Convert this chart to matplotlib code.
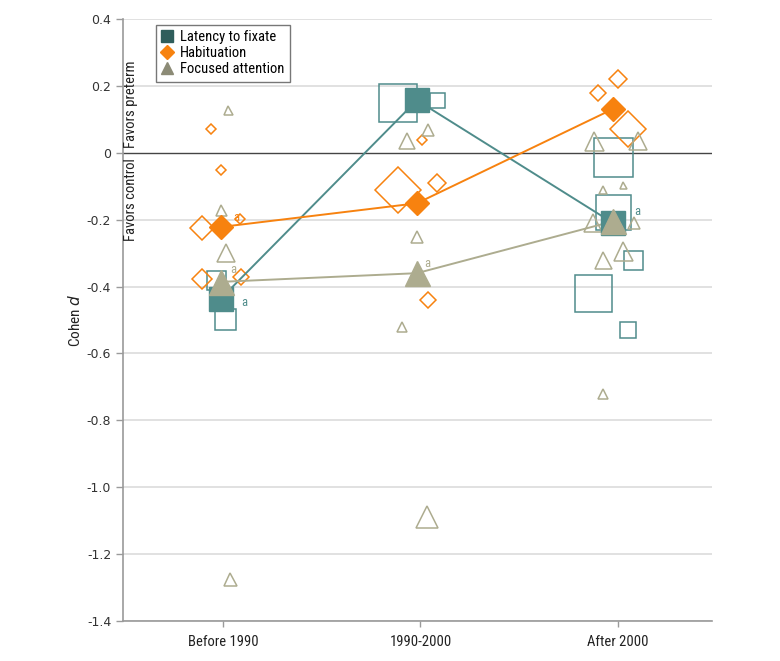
import matplotlib
matplotlib.use("Agg")
import matplotlib.pyplot as plt
from matplotlib import font_manager
from matplotlib.lines import Line2D

# ---------------- data ----------------
periods = ["Before 1990", "1990-2000", "After 2000"]

# Latency to fixate: individual studies
lat_period = [0, 0, 1, 1, 2, 2, 2, 2, 2]
lat_d      = [-0.38, -0.497, 0.149, 0.158, -0.013, -0.177, -0.32, -0.42, -0.53]
lat_jit    = [-0.035, 0.010, -0.114, 0.084, -0.025, -0.025, 0.076, -0.127, 0.051]
lat_size   = [19, 21, 38, 15, 39, 35, 19, 37, 16]
lat_mean   = [-0.437, 0.157, -0.21]

# Habituation: individual studies
hab_period = [0, 0, 0, 0, 0, 0, 1, 1, 1, 1, 2, 2, 2]
hab_d      = [0.071, -0.05, -0.198, -0.225, -0.378, -0.37,
              0.038, -0.111, -0.09, -0.44,
              0.221, 0.178, 0.071]
hab_jit    = [-0.061, -0.010, 0.086, -0.106, -0.106, 0.091,
              0.008, -0.114, 0.084, 0.038,
              0.0, -0.101, 0.051]
hab_size   = [10, 9, 10, 23, 20, 15,
              9, 45, 18, 16,
              18, 16, 36]
hab_mean   = [-0.222, -0.151, 0.131]

# Focused attention: individual studies
foc_period = [0, 0, 0, 0, 1, 1, 1, 1, 1, 2, 2, 2, 2, 2, 2, 2, 2, 2]
foc_d      = [0.128, -0.17, -0.30, -1.275,
              0.035, 0.068, -0.252, -0.52, -1.09,
              0.035, 0.035, -0.095, -0.11, -0.21, -0.21, -0.294, -0.32, -0.72]
foc_jit    = [0.025, -0.010, 0.015, 0.035,
              -0.068, 0.038, -0.018, -0.094, 0.033,
              -0.122, 0.101, 0.025, -0.076, -0.127, 0.081, 0.025, -0.076, -0.076]
foc_size   = [9, 11, 18, 13,
              16, 12, 12, 10, 22,
              19, 18, 7, 8, 18, 12, 19, 17, 10]
foc_mean   = [-0.386, -0.36, -0.205]

mean_jit = [-0.012, -0.018, -0.025]
mean_size = 24

yticks = [0.4, 0.2, 0, -0.2, -0.4, -0.6, -0.8, -1.0, -1.2, -1.4]
ytick_labels = ["0.4", "0.2", "0", "-0.2", "-0.4", "-0.6", "-0.8", "-1.0", "-1.2", "-1.4"]

# ---------------- style ----------------
TEAL = "#4F8C8B"
ORANGE = "#F7820F"
KHAKI = "#ADAC8F"

avail = {f.name for f in font_manager.fontManager.ttflist}
narrow = "DejaVu Sans"
for cand in ["Liberation Sans Narrow", "Roboto Condensed", "Open Sans Condensed", "Roboto", "Liberation Sans"]:
    if cand in avail:
        narrow = cand
        break

PX = 0.72  # points per pixel at dpi 100

fig = plt.figure(figsize=(7.8, 6.61), dpi=100)
ax = fig.add_axes([123 / 780, 1 - 621 / 661, (712 - 123) / 780, (621 - 19) / 661])
ax.set_xlim(-0.506, 2.476)
ax.set_ylim(-1.4, 0.4)

# grid
for y in yticks:
    if y == 0:
        continue
    ax.axhline(y, color="#DCDCDC", lw=1.2, zorder=0)
ax.axhline(0, color="#444444", lw=1.0, zorder=1)

# individual studies
for p, d, j, s in zip(lat_period, lat_d, lat_jit, lat_size):
    ax.plot(p + j, d, marker="s", ms=s * PX, mfc="none", mec=TEAL, mew=1.1, ls="none", zorder=3)
for p, d, j, s in zip(hab_period, hab_d, hab_jit, hab_size):
    ax.plot(p + j, d, marker="D", ms=s / 1.414 * PX, mfc="none", mec=ORANGE, mew=1.1, ls="none", zorder=3)
for p, d, j, s in zip(foc_period, foc_d, foc_jit, foc_size):
    ax.plot(p + j, d, marker="^", ms=s * PX, mfc="none", mec=KHAKI, mew=1.1, ls="none", zorder=3)

xs = [i + j for i, j in enumerate(mean_jit)]
# mean lines
ax.plot(xs, lat_mean, color=TEAL, lw=1.4, zorder=4)
ax.plot(xs, hab_mean, color=ORANGE, lw=1.4, zorder=4)
ax.plot(xs, foc_mean, color=KHAKI, lw=1.4, zorder=4)
# mean markers
ax.plot(xs, lat_mean, ls="none", marker="s", ms=mean_size * PX, mfc=TEAL, mec=TEAL, zorder=5)
ax.plot(xs, hab_mean, ls="none", marker="D", ms=23 / 1.414 * PX, mfc=ORANGE, mec=ORANGE, zorder=5)
ax.plot(xs, foc_mean, ls="none", marker="^", ms=25 * PX, mfc=KHAKI, mec=KHAKI, zorder=6)

# "a" annotations
afs = 9
ax.annotate("a", (xs[0], hab_mean[0]), xytext=(13, 10), textcoords="offset pixels",
            color=ORANGE, fontsize=afs, family=narrow, ha="left", va="center")
ax.annotate("a", (xs[0], foc_mean[0]), xytext=(10, 12), textcoords="offset pixels",
            color=KHAKI, fontsize=afs, family=narrow, ha="left", va="center")
ax.annotate("a", (xs[0], lat_mean[0]), xytext=(21, -4), textcoords="offset pixels",
            color=TEAL, fontsize=afs, family=narrow, ha="left", va="center")
ax.annotate("a", (xs[1], foc_mean[1]), xytext=(7, 10), textcoords="offset pixels",
            color=KHAKI, fontsize=afs, family=narrow, ha="left", va="center")
ax.annotate("a", (xs[2], lat_mean[2]), xytext=(21, 12), textcoords="offset pixels",
            color=TEAL, fontsize=afs, family=narrow, ha="left", va="center")

# axes styling
for side in ["top", "right"]:
    ax.spines[side].set_visible(False)
ax.spines["left"].set_color("#9A9A9A")
ax.spines["bottom"].set_color("#9A9A9A")
ax.spines["left"].set_linewidth(1.2)
ax.spines["bottom"].set_linewidth(1.2)
ax.set_yticks(yticks)
ax.set_yticklabels(ytick_labels, fontsize=9, color="#333333", family="DejaVu Sans")
ax.set_xticks(range(len(periods)))
ax.set_xticklabels(periods, fontsize=10.5, color="#222222", family=narrow)
ax.tick_params(axis="y", length=5, color="#9A9A9A", width=1)
ax.tick_params(axis="x", length=4, color="#9A9A9A", width=1, pad=6)

fig.text(75 / 780, 1 - 320 / 661, "Cohen $d$", rotation=90, ha="center", va="center",
         fontsize=11, family=narrow, color="#222222")

ax.text(-0.466, 0.015, "Favors preterm", rotation=90, ha="center", va="bottom",
        fontsize=10.5, family=narrow, color="#222222")
ax.text(-0.466, -0.015, "Favors control", rotation=90, ha="center", va="top",
        fontsize=10.5, family=narrow, color="#222222")

handles = [
    Line2D([], [], ls="none", marker="s", ms=8, mfc="#2F5E5C", mec="#2F5E5C"),
    Line2D([], [], ls="none", marker="D", ms=7, mfc=ORANGE, mec=ORANGE),
    Line2D([], [], ls="none", marker="^", ms=9, mfc="#8C8B76", mec="#8C8B76"),
]
leg = ax.legend(handles, ["Latency to fixate", "Habituation", "Focused attention"],
                loc="upper left", bbox_to_anchor=(0.056, 0.99), frameon=True, fancybox=False,
                prop={"family": narrow, "size": 10.5}, handlelength=0.8, handletextpad=0.5,
                borderpad=0.35, labelspacing=0.15, borderaxespad=0)
leg.get_frame().set_edgecolor("#555555")
leg.get_frame().set_linewidth(1.0)

fig.savefig("out.png", dpi=100)
